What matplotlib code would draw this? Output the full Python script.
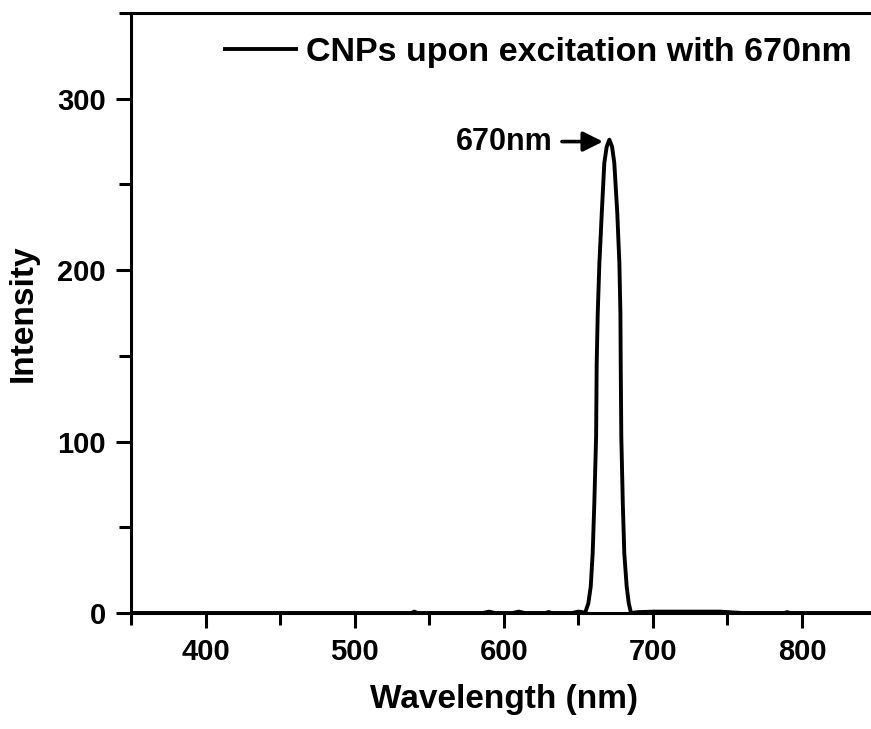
import matplotlib
matplotlib.use('Agg')
import matplotlib.pyplot as plt
from matplotlib.ticker import MultipleLocator

plt.rcParams['font.family'] = ['Liberation Sans', 'DejaVu Sans']
plt.rcParams['font.weight'] = 'bold'

# spectrum (nm, intensity)
wavelength = [350, 400, 450, 500, 538, 540, 542, 586, 590, 594, 606, 610, 614,
              628, 630, 632, 646, 650, 652, 654.5, 656.7, 658.3, 659.6, 660.7,
              661.9, 662.3, 663.0, 664.1, 665.7, 667.4, 669.0, 670.8, 672.6,
              674.1, 676.1, 677.5, 678.2, 678.4, 678.8, 679.8, 680.8, 682.4,
              683.8, 685.3, 690, 700, 720, 745, 760, 788, 790, 792, 800, 850]
intensity = [0, 0, 0, 0, 0, 0.8, 0, 0, 0.8, 0, 0, 0.8, 0,
             0, 0.6, 0, 0, 0.8, 0.6, 0, 5.7, 15.4, 34.9, 64.0,
             102.9, 145.8, 175.0, 204.1, 233.3, 262.5, 272.0, 276.1, 272.0,
             262.5, 233.3, 204.1, 175.0, 145.8, 102.9, 64.0, 34.9, 15.4,
             5.7, 0, 0.5, 0.8, 0.8, 0.8, 0, 0, 0.5, 0, 0, 0]

series_label = 'CNPs upon excitation with 670nm'
peak_label = '670nm'
peak_y = 275

fig = plt.figure(figsize=(8.71, 7.29), dpi=100)
ax = fig.add_axes([131 / 871, 116 / 729, 745.6 / 871, 600 / 729])

ax.plot(wavelength, intensity, color='black', lw=2.8, label=series_label,
        solid_joinstyle='round')

ax.set_xlim(350, 850)
ax.set_ylim(0, 350)
ax.xaxis.set_major_locator(MultipleLocator(100))
ax.xaxis.set_minor_locator(MultipleLocator(50))
ax.yaxis.set_major_locator(MultipleLocator(100))
ax.yaxis.set_minor_locator(MultipleLocator(50))
ax.set_xticks([400, 500, 600, 700, 800])
ax.set_yticks([0, 100, 200, 300])

ax.tick_params(which='major', direction='out', length=11, width=2.2,
               labelsize=21, pad=7)
ax.tick_params(which='minor', direction='out', length=8.5, width=2.2)
for s in ax.spines.values():
    s.set_linewidth(2.2)

ax.set_xlabel('Wavelength (nm)', fontsize=24, fontweight='bold', labelpad=13)
ax.set_ylabel('Intensity', fontsize=24, fontweight='bold', labelpad=13)

# arrow pointing at the peak
ax.annotate('', xy=(666.5, peak_y), xytext=(639, peak_y),
            arrowprops=dict(arrowstyle='-|>', lw=2.6, color='black',
                            mutation_scale=30, shrinkA=0, shrinkB=0))
ax.text(632.5, peak_y, peak_label, ha='right', va='center', fontsize=22,
        fontweight='bold')

leg = ax.legend(loc='center left', bbox_to_anchor=(225 / 871, 1 - 52 / 729),
                bbox_transform=fig.transFigure, frameon=False, borderpad=0,
                borderaxespad=0, handlelength=2.1, handletextpad=0.27,
                prop={'size': 24.5, 'weight': 'bold'})
for line in leg.get_lines():
    line.set_linewidth(2.8)

plt.savefig('out.png', dpi=100)
plt.close()
